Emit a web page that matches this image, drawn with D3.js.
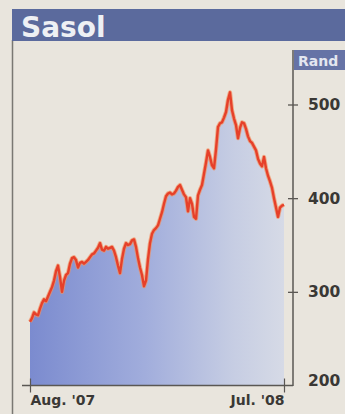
<!DOCTYPE html>
<html><head><meta charset="utf-8">
<script src="https://cdn.jsdelivr.net/npm/d3@7"></script>
<style>
html,body{margin:0;padding:0;background:#e9e5dd;}
svg{display:block;}
text{font-family:"DejaVu Sans",sans-serif;font-weight:bold;}
</style></head><body>
<svg id="c" width="345" height="414"></svg>
<script>
const title = "Sasol";
const unitLabel = "Rand";
const xTickLabels = ["Aug. '07", "Jul. '08"];
const yTicks = [200, 300, 400, 500];
// Share price (Rand), Aug 2007 – Jul 2008
const prices = [
268,272,278,276,275,282,288,292,290,295,300,305,312,322,328,316,
300,312,318,320,330,336,337,334,326,331,332,330,332,334,337,340,
341,344,347,352,345,344,348,346,347,348,344,337,328,320,335,346,
352,350,351,355,356,348,336,326,318,306,312,335,352,362,366,368,
371,378,385,394,402,405,406,404,405,408,412,414,409,404,401,386,
400,394,380,378,403,409,414,426,438,451,444,435,432,452,476,480,
481,486,492,505,513,494,485,478,464,475,481,480,474,466,461,459,
455,451,442,437,434,444,432,424,418,411,400,390,380,390,392,393
];

const svg = d3.select("#c");
const W = 345, H = 414;

// frame and title banner
svg.append("rect").attr("x",0).attr("y",0).attr("width",W).attr("height",H).attr("fill","#e9e5dd");
svg.append("line").attr("x1",12.5).attr("x2",12.5).attr("y1",40).attr("y2",H)
  .attr("stroke","#7a7873").attr("stroke-width",1.5);
svg.append("rect").attr("x",12).attr("y",9).attr("width",W-12).attr("height",32).attr("fill","#5b6a9d");
svg.append("text").attr("x",21).attr("y",37).attr("font-size",28).attr("fill","#eef0f4").text(title);

const x = d3.scaleLinear().domain([0, prices.length-1]).range([30, 284]);
const y = d3.scaleLinear().domain([200, 500]).range([385.5, 104.5]);

// gradient fill
const defs = svg.append("defs");
const g = defs.append("linearGradient").attr("id","fillg").attr("x1","0").attr("x2","1").attr("y1","0").attr("y2","0");
g.append("stop").attr("offset","0%").attr("stop-color","#7b8bcf");
g.append("stop").attr("offset","45%").attr("stop-color","#a1addc");
g.append("stop").attr("offset","80%").attr("stop-color","#c6cde3");
g.append("stop").attr("offset","100%").attr("stop-color","#d6dae6");

const area = d3.area().x((d,i)=>x(i)).y0(y(200)).y1(d=>y(d));
svg.append("path").datum(prices).attr("d",area).attr("fill","url(#fillg)");

const line = d3.line().x((d,i)=>x(i)).y(d=>y(d));
svg.append("path").datum(prices).attr("d",line).attr("fill","none")
  .attr("stroke","#f29060").attr("stroke-width",4.2).attr("stroke-linejoin","round").attr("opacity",0.7);
svg.append("path").datum(prices).attr("d",line).attr("fill","none")
  .attr("stroke","#e6402a").attr("stroke-width",2.4).attr("stroke-linejoin","round");

// right axis
const axX = 293;
svg.append("line").attr("x1",axX).attr("x2",axX).attr("y1",50).attr("y2",386)
  .attr("stroke","#5a5753").attr("stroke-width",1.5);
const yAxis = svg.append("g").attr("transform",`translate(${axX},0)`)
  .call(d3.axisRight(y).tickValues(yTicks).tickSize(5).tickPadding(10).tickFormat(d3.format("d")));
yAxis.select(".domain").remove();
yAxis.selectAll(".tick line").attr("x1",-5).attr("x2",5).attr("stroke","#5a5753").attr("stroke-width",1.3)
  .filter(d=>d===200).remove();
yAxis.selectAll(".tick text").attr("font-size",15.5).attr("fill","#3a3835")
  .attr("font-family","DejaVu Sans").attr("font-weight","bold").attr("x",15)
  .attr("dy", d => d===200 ? "0.0em" : "0.32em");

// Rand box
svg.append("rect").attr("x",axX+1).attr("y",50).attr("width",W-axX-1).attr("height",20).attr("fill","#6673a6");
svg.append("text").attr("x",298).attr("y",66).attr("font-size",14).attr("fill","#e3e6f0").text(unitLabel);

// bottom axis
svg.append("line").attr("x1",22).attr("x2",axX).attr("y1",385.5).attr("y2",385.5)
  .attr("stroke","#5a5753").attr("stroke-width",1.5);
const xAxis = svg.append("g").attr("transform","translate(0,385.5)")
  .call(d3.axisBottom(x).tickValues([0, prices.length-1]).tickSize(7).tickPadding(6)
    .tickFormat((d,i)=>xTickLabels[i]));
xAxis.select(".domain").remove();
xAxis.selectAll(".tick line").attr("y1",-7).attr("y2",7).attr("stroke","#5a5753").attr("stroke-width",1.2);
xAxis.selectAll(".tick text").attr("font-size",14).attr("fill","#3a3835")
  .attr("font-family","DejaVu Sans").attr("font-weight","bold")
  .attr("text-anchor",(d,i)=> i===0 ? "start" : "end").attr("y",7).attr("dy","0.9em");
</script>
</body></html>
